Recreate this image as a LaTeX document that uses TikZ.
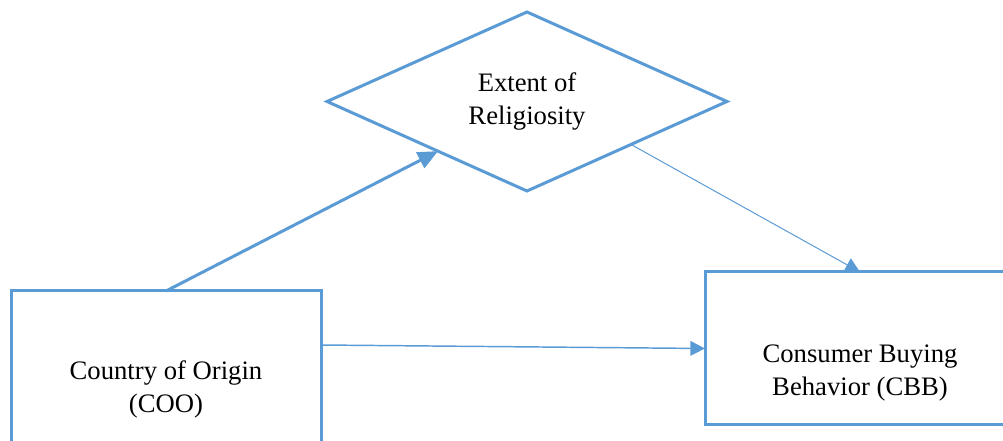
\documentclass[tikz,border=0pt]{standalone}
\usepackage{fontspec}
\setmainfont{Liberation Serif}
\usetikzlibrary{calc,shapes.geometric,arrows.meta}
\definecolor{linienblau}{HTML}{5B9BD5}

\begin{document}
\begin{tikzpicture}[x=0.75pt, y=-0.75pt, font=\fontsize{20}{24.75}\selectfont, % 1単位=1px、y軸は下向き
  box/.style={draw=linienblau, line width=2.25pt, align=center, inner sep=0pt, outer sep=0pt}, % 枠の線
  pfeil/.style={draw=linienblau, -{Triangle[length=11pt, width=11pt]}}] % 矢印
  \useasboundingbox (0,0) rectangle (1003,441); % 画像の範囲
  \clip (0,0) rectangle (1003,441); % はみ出す枠を切る

  \node[box, diamond, aspect=2.2, minimum width=300pt, minimum height=134.25pt] (rel) at (527,101.5) {Extent of\\Religiosity}; % 菱形
  \node[box, rectangle, minimum width=232.5pt, minimum height=147pt] (coo) at (166,389) {Country of Origin\\(COO)}; % 左の箱
  \node[box, rectangle, minimum width=232.5pt, minimum height=114.75pt] (cbb) at (860,348.5) {}; % 右の箱
  \node[align=center] (cbbtext) at (860,373) {Consumer Buying\\Behavior (CBB)}; % 右の箱の文字

  \coordinate (relin) at ($(rel.west)!0.555!(rel.south)$); % 菱形の左下の辺
  \coordinate (relout) at ($(rel.south)!0.52!(rel.east)$); % 菱形の右下の辺
  \coordinate (cooout) at ($(coo.north east)+(0,54)$); % 左の箱の右の辺

  \draw[pfeil, line width=2.25pt, -{Triangle[length=15pt, width=13pt]}] (coo.north) -- (relin);
  \draw[pfeil, line width=0.75pt] (relout) -- (cbb.north);
  \draw[pfeil, line width=1.1pt] (cooout) -- (cbb.west);

\end{tikzpicture}
\end{document}
